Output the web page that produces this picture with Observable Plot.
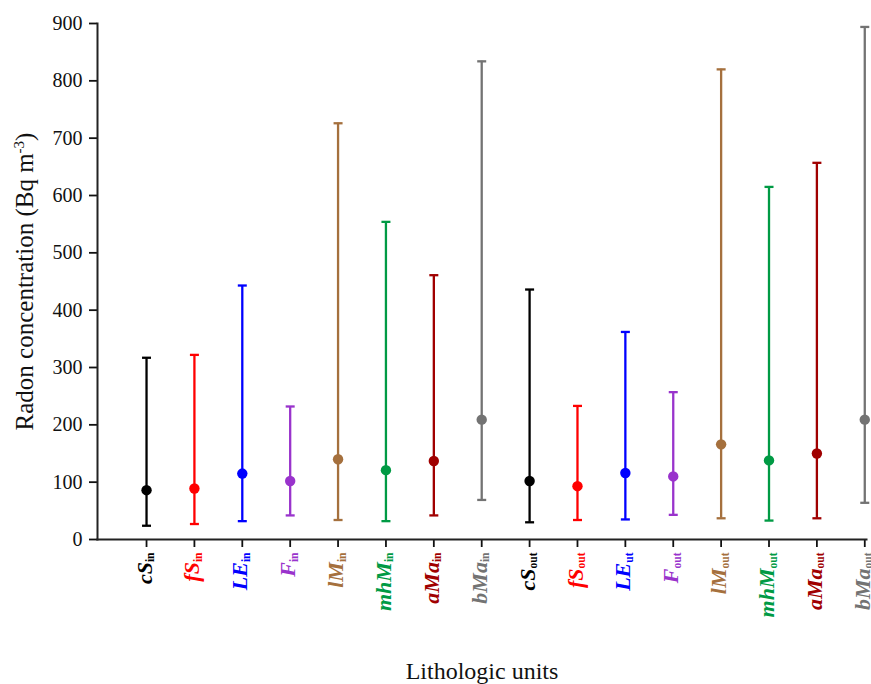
<!DOCTYPE html>
<html><head><meta charset="utf-8">
<script src="https://cdn.jsdelivr.net/npm/d3@7"></script>
<script src="https://cdn.jsdelivr.net/npm/@observablehq/plot@0.6"></script>
<style>body{margin:0;background:#fff} svg{display:block}</style>
</head><body><div id="chart"></div>
<script>
// ---- data ----
const units = ["cS","fS","LE","F","lM","mhM","aMa","bMa","cS","fS","LE","F","lM","mhM","aMa","bMa"];
const subs  = ["in","in","in","in","in","in","in","in","out","out","ut","out","out","out","out","out"];
const minVals  = [24, 27, 32, 42, 34, 32, 42, 69, 30, 34, 35, 43, 37, 33, 37, 64];
const meanVals = [86, 89, 115, 102, 140, 121, 137, 209, 102, 93, 116, 110, 166, 138, 150, 209];
const maxVals  = [317, 322, 443, 232, 726, 554, 461, 834, 436, 233, 362, 257, 820, 615, 657, 894];
const colors = ["#000000","#ff0000","#0000ff","#9933cc","#a5703d","#009a44","#a00000","#737373",
                "#000000","#ff0000","#0000ff","#9933cc","#a5703d","#009a44","#a00000","#737373"];
const yTicks = [0,100,200,300,400,500,600,700,800,900];
const xTitle = "Lithologic units";
const yTitleMain = "Radon concentration (Bq m";
const yTitleSup = "-3";
const yTitleEnd = ")";

const data = units.map((u, i) => ({
  id: u + "_" + subs[i], unit: u, sub: subs[i],
  min: minVals[i], mean: meanVals[i], max: maxVals[i], color: colors[i]
}));
const ids = data.map(d => d.id);

const capSymbol = { draw(ctx, size) { const w = Math.sqrt(size / Math.PI); ctx.moveTo(-w, 0); ctx.lineTo(w, 0); } };
const serif = "'Liberation Serif', 'Times New Roman', serif";

const chart = Plot.plot({
  width: 871, height: 684,
  marginTop: 23, marginBottom: 145, marginLeft: 97, marginRight: 5,
  style: {fontFamily: serif, color: "#111", background: "#fff"},
  x: {type: "point", domain: ids, padding: 0.53, align: 0.966, round: false},
  y: {domain: [0, 900]},
  color: {type: "identity"},
  marks: [
    Plot.axisY(yTicks, {tickSize: 8, tickPadding: 7, fontSize: 20, label: null, strokeWidth: 1.8}),
    Plot.axisX({tickSize: 8, tickFormat: () => "", label: null, strokeWidth: 1.8}),
    Plot.frame({anchor: "left", strokeWidth: 2, stroke: "#222"}),
    Plot.frame({anchor: "bottom", strokeWidth: 2, stroke: "#222"}),
    Plot.ruleX(data, {x: "id", y1: "min", y2: "max", stroke: "color", strokeWidth: 2.3}),
    Plot.dot(data, {x: "id", y: "max", symbol: capSymbol, r: 4.5, fill: "none", stroke: "color", strokeWidth: 2.3}),
    Plot.dot(data, {x: "id", y: "min", symbol: capSymbol, r: 4.5, fill: "none", stroke: "color", strokeWidth: 2.3}),
    Plot.dot(data, {x: "id", y: "mean", r: 5.2, fill: "color", stroke: null}),
    Plot.text(data, {x: "id", frameAnchor: "bottom", text: "unit", rotate: -90, textAnchor: "end", lineAnchor: "middle", dy: 13, dx: -2,
      fill: "color", fontSize: 22, fontWeight: "bold", fontStyle: "italic"}),
    Plot.text([yTitleMain + yTitleEnd], {frameAnchor: "left", dx: -82, rotate: -90, lineAnchor: "top", textAnchor: "middle",
      fontSize: 25, fill: "#111"}),
    Plot.text([xTitle], {frameAnchor: "bottom", dy: 132, lineAnchor: "middle", fontSize: 24, fill: "#111"})
  ]
});
document.getElementById("chart").appendChild(chart);

// subscripts for tick labels and superscript for the y title
const allTexts = Array.from(chart.querySelectorAll("text"));
let k = 0;
for (const el of allTexts) {
  if (k < data.length && el.textContent === data[k].unit) {
    const t = d3.select(el);
    t.text(data[k].unit);
    t.append("tspan").attr("dy", 2.5).attr("font-size", 11.5).attr("font-style", "normal").attr("font-weight", "bold").text(data[k].sub);
    k++;
  } else if (el.textContent === yTitleMain + yTitleEnd) {
    const t = d3.select(el);
    t.text(yTitleMain);
    t.append("tspan").attr("dy", -9).attr("font-size", 15).text(yTitleSup);
    t.append("tspan").attr("dy", 9).text(yTitleEnd);
  }
}
</script>
</body></html>
